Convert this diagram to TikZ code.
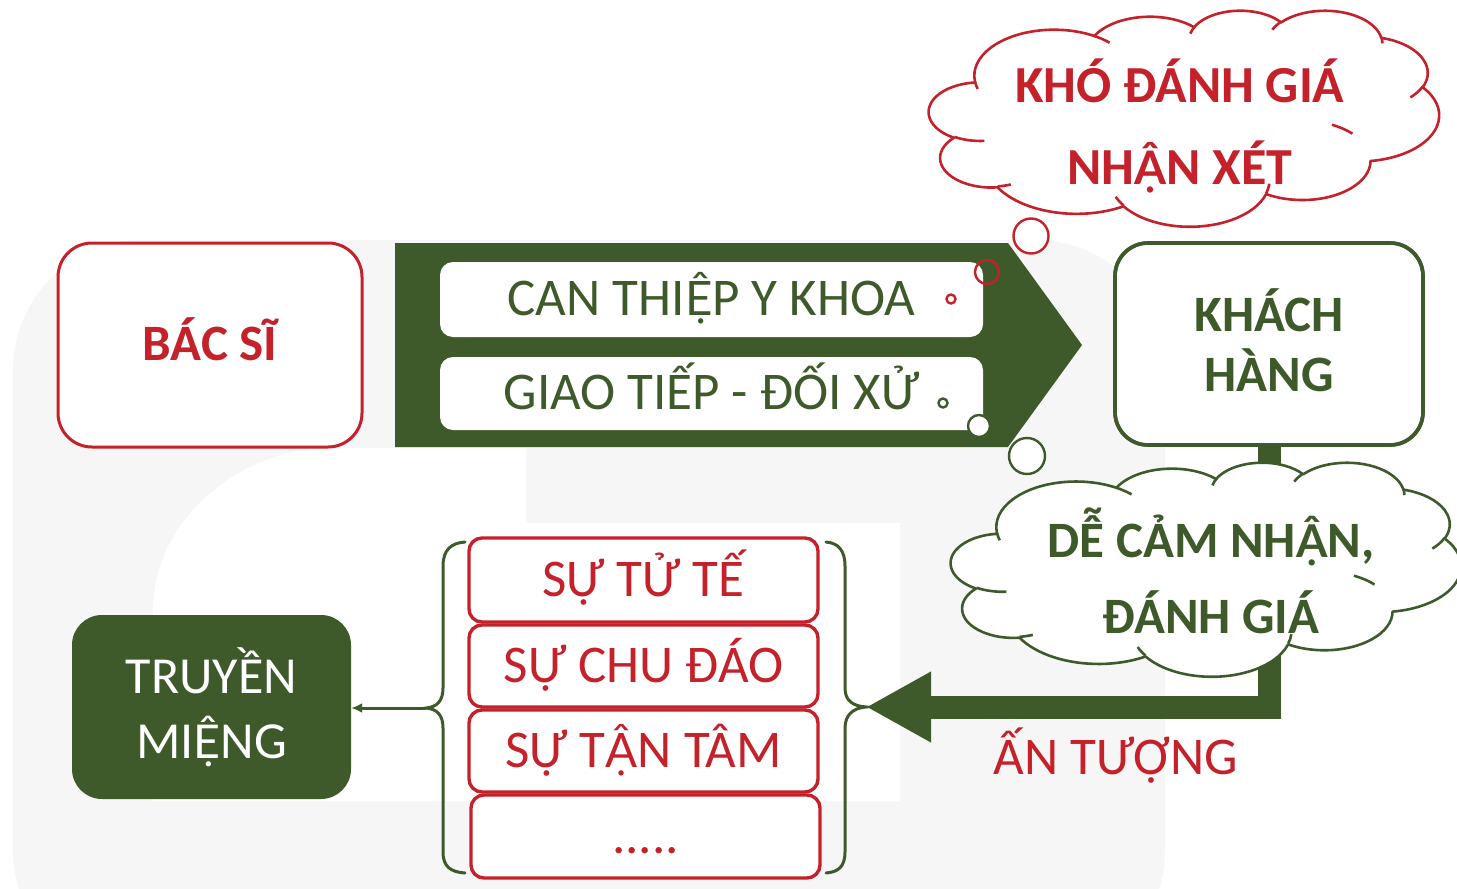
\documentclass[tikz,border=0pt]{standalone}
\usepackage{fontspec}
\setmainfont{Carlito}
% letters with circumflex and dot below are taken from Lato, sized to the caps
\newfontfamily\vnfix[Scale=MatchUppercase]{Lato}
\newcommand\Ahd{{\vnfix Ậ}}
\newcommand\Ehd{{\vnfix Ệ}}
\usetikzlibrary{arrows.meta}

\definecolor{leaf}{RGB}{62,90,42}
\definecolor{brick}{RGB}{196,33,43}
\definecolor{mist}{RGB}{246,246,246}

% One puff of a cloud: x radius, y radius, start angle and sweep, the angles
% being the directions seen from the centre of the ellipse.
\newcommand\carc[4]{%
  \pgfextra{%
    \pgfmathsetmacro\cloudS{atan2((#1)*sin(#3),(#2)*cos(#3))}%
    \pgfmathsetmacro\cloudE{atan2((#1)*sin((#3)+(#4)),(#2)*cos((#3)+(#4)))}%
    \pgfmathsetmacro\cloudD{mod((\cloudE)-(\cloudS)+720,360)}%
    \xdef\cloudArc{arc[start angle=\cloudS, delta angle=\cloudD, x radius=#1, y radius=#2]}%
  }\cloudArc}

% Cloud outline in a 432 x 432 box: the puffs, then the inner creases.
\newcommand\cloudlines[1]{%
  \draw[#1, line width=2.6pt, fill=white, line join=round]
    (39.00,143.70)
    \carc{67.53}{91.90}{-190.4875}{123.7805}
    \carc{53.33}{72.67}{-144.1024}{89.9452}
    \carc{43.65}{59.45}{-145.8079}{99.7230}
    \carc{48.57}{65.95}{-130.9861}{117.2417}
    \carc{53.33}{72.73}{-78.7089}{109.0269}
    \carc{67.75}{92.20}{-46.2673}{130.2690}
    \carc{57.85}{78.67}{0.6250}{114.0333}
    \carc{67.52}{92.15}{22.4516}{115.1726}
    \carc{77.20}{105.43}{66.2426}{75.7110}
    \carc{43.60}{59.18}{-274.9421}{146.7356}
    \carc{43.45}{59.45}{-246.8285}{152.5189}
    -- cycle;
  \draw[#1, line width=2.6pt]
    (46.93,261.77) \carc{43.45}{59.45}{86.7420}{26.4295}
    (69.28,348.99) \carc{43.60}{59.18}{73.6105}{11.4475}
    (164.78,390.90) \carc{67.52}{92.15}{137.6242}{14.0811}
    (288.27,347.51) \carc{67.52}{92.15}{6.4533}{15.9984}
    (341.29,229.54) \carc{57.85}{78.67}{-70.2924}{19.1871}
    (417.98,153.54) \carc{53.33}{72.73}{30.3180}{21.8604}
    (383.24,54.26) \carc{48.57}{65.95}{-13.7443}{14.8538}
    (290.78,39.52) \carc{48.57}{65.95}{-149.1815}{18.1954}
    (221.41,47.20) \carc{43.65}{59.45}{-163.4943}{17.6864}
    (140.00,51.92) \carc{67.53}{91.90}{-66.7070}{12.3194}
    (41.27,157.89) \carc{67.53}{91.90}{157.6544}{11.8539};
}

\begin{document}
\begin{tikzpicture}[x=1pt, y=-1pt,
  plain/.style={inner sep=0pt, font=\fontsize{53}{58}\selectfont},
  heavy/.style={inner sep=0pt, font=\fontsize{51}{58}\selectfont\bfseries},
  redbox/.style={draw=brick, line width=3pt, fill=white, rounded corners=34pt,
    inner sep=0pt, text=brick},
  greenbox/.style={draw=leaf, line width=3.6pt, fill=white, rounded corners=33pt,
    inner sep=0pt, text=leaf},
  bar/.style={plain, fill=white, rounded corners=13pt, text=leaf,
    minimum width=543pt, text height=32pt, text depth=0pt},
  item/.style={plain, draw=brick, line width=3.4pt, fill=white, rounded corners=13pt,
    text=brick, minimum width=349pt, text height=33pt, text depth=0pt},
  brace/.style={draw=leaf, line width=3pt, line cap=round},
  redpuff/.style={draw=brick, line width=2.4pt},
  greenpuff/.style={draw=leaf, line width=2.4pt}]

\useasboundingbox (0,0) rectangle (1457,889);
\clip (0,0) rectangle (1457,889);
\fill[white] (0,0) rectangle (1457,889);

% faint logo in the background
\fill[mist, rounded corners=130pt] (13,240) rectangle (1165,980);
\fill[white] (153,801) -- (153,610) .. controls (153,520) and (240,448) .. (330,448)
  -- (526,448) -- (526,523) -- (900,523) -- (900,801) -- cycle;

% arrow carrying the two kinds of care
\fill[leaf] (395,243) -- (1008,243) -- (1082,345) -- (1008,447) -- (395,447) -- cycle;
\node[bar, minimum height=75pt] (can) at (711.5,299.5) {CAN THI\Ehd P Y KHOA};
\node[bar, minimum height=73pt] (gtdx) at (711.5,393.5) {GIAO TIẾP - ĐỐI XỬ};

% doctor
\node[redbox, heavy, minimum width=304pt, minimum height=204pt,
  text height=30pt, text depth=0pt] (bacsi) at (210,345) {BÁC SĨ};

% customer and the impression flowing back
\coordinate (lcusp) at (426,708);
\coordinate (rcusp) at (866,707);
\node[greenbox, heavy, minimum width=308pt, minimum height=202pt,
  text height=33pt, text depth=59pt] (khach) at (1269,344)
  {\begin{tabular}[t]{@{}c@{}}KHÁCH\\HÀNG\end{tabular}};
\draw[leaf, line width=23pt, line join=miter,
  -{Triangle[length=65pt,width=66pt]}] (khach.south) |- (rcusp);
\draw[leaf, line width=3.6pt, rounded corners=33pt] (1115,243) rectangle (1423,445);

% thought clouds
\begin{scope}[shift={(929,10)}, x=1.18056pt, y=-0.5pt]
  \cloudlines{brick}
\end{scope}
\begin{scope}[shift={(951,462)}, x=1.18056pt, y=-0.49537pt]
  \cloudlines{leaf}
\end{scope}
\node[heavy, font=\fontsize{52}{82}\selectfont\bfseries, text=brick, anchor=base]
  (hard) at (1180,102) {\begin{tabular}[t]{@{}c@{}}KHÓ ĐÁNH GIÁ\\NH\Ahd N XÉT\end{tabular}};
\node[heavy, font=\fontsize{51}{76}\selectfont\bfseries, text=leaf, anchor=base]
  (easy) at (1211,557) {\begin{tabular}[t]{@{}c@{}}DỄ CẢM NH\Ahd N,\\ĐÁNH GIÁ\end{tabular}};

% bubble trails
\draw[redpuff] (951,299) circle[radius=4.5];
\draw[redpuff] (987,272) circle[radius=12];
\draw[redpuff, fill=white] (1031,236) circle[radius=17.5];
\draw[greenpuff] (943,403) circle[radius=4.5];
\draw[greenpuff, fill=white] (979,426) circle[radius=11];
\draw[greenpuff, fill=white] (1027,456) circle[radius=18];

\node[plain, text=brick, anchor=base] (imp) at (1116,774) {ẤN TƯỢNG};

% qualities
\node[item, minimum height=84pt] (s1) at (643.5,580) {SỰ TỬ TẾ};
\node[item, minimum height=82pt] (s2) at (643.5,666) {SỰ CHU ĐÁO};
\node[item, minimum height=82pt] (s3) at (643.5,751) {SỰ T\Ahd N TÂM};
\node[item, minimum height=83pt] (s4) at (645.5,836.5) {.....};

\draw[brace] (465,542) .. controls (451,543) and (443,550) .. (443,566) -- (443,688)
  .. controls (443,701) and (437,707) .. (lcusp)
  .. controls (437,709) and (443,715) .. (443,728) -- (443,852)
  .. controls (443,867) and (451,872) .. (465,873);
\draw[brace] (826,542) .. controls (838,543) and (845,550) .. (845,566) -- (845,688)
  .. controls (845,701) and (853,706) .. (rcusp)
  .. controls (853,708) and (845,715) .. (845,728) -- (845,852)
  .. controls (845,867) and (838,872) .. (826,873);

% word of mouth
\node[plain, fill=leaf, text=white, rounded corners=30pt, minimum width=279pt,
  minimum height=184pt, font=\fontsize{52}{65}\selectfont,
  text height=33pt, text depth=61pt] (truyen) at (211.5,707)
  {\begin{tabular}[t]{@{}c@{}}TRUYỀN\\MI\Ehd NG\end{tabular}};
\draw[leaf, line width=3pt, -{Latex[length=11pt,width=10pt]}] (lcusp) -- (truyen.east |- lcusp);

\end{tikzpicture}
\end{document}
